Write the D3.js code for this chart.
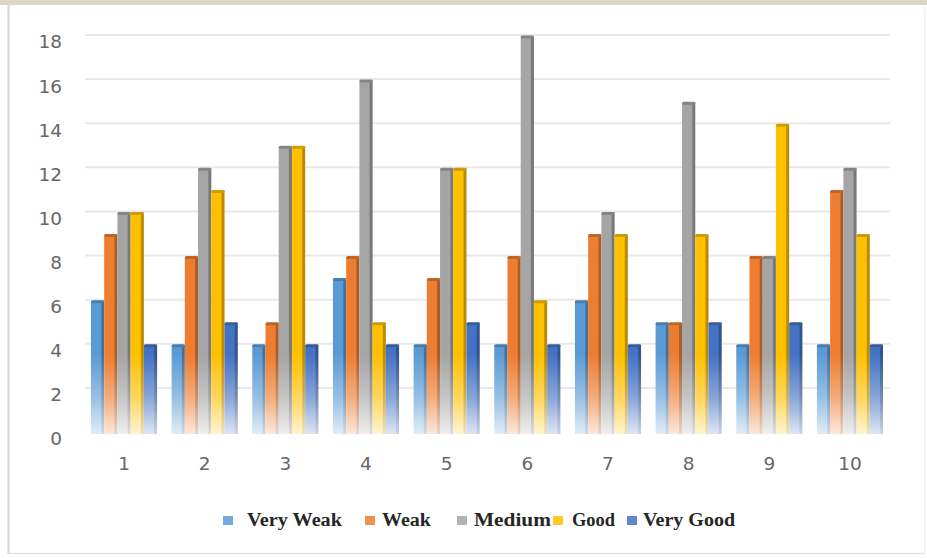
<!DOCTYPE html>
<html>
<head>
<meta charset="utf-8">
<script src="https://cdn.jsdelivr.net/npm/d3@7/dist/d3.min.js"></script>
<style>
  html, body { margin: 0; padding: 0; background: #ffffff; }
  svg { display: block; }
</style>
</head>
<body>
<svg id="chart" width="927" height="558"></svg>
<script>
// Groups along the x axis
const categories = ["1", "2", "3", "4", "5", "6", "7", "8", "9", "10"];

// Rating levels (one bar per level in each group)
const seriesNames = ["Very Weak", "Weak", "Medium", "Good", "Very Good"];
const seriesColors = ["#5b9bd5", "#ed7d31", "#a5a5a5", "#ffc000", "#4472c4"];

// Counts per group, one array per rating level
const veryWeak = [6, 4, 4, 7, 4, 4, 6, 5, 4, 4];
const weak     = [9, 8, 5, 8, 7, 8, 9, 5, 8, 11];
const medium   = [10, 12, 13, 16, 12, 18, 10, 15, 8, 12];
const good     = [10, 11, 13, 5, 12, 6, 9, 9, 14, 9];
const veryGood = [4, 5, 4, 4, 5, 4, 4, 5, 5, 4];

const yTicks = [0, 2, 4, 6, 8, 10, 12, 14, 16, 18];

const seriesValues = [veryWeak, weak, medium, good, veryGood];

const svg = d3.select("#chart");
const W = 927, H = 558;

// Page frame
svg.append("rect").attr("x", 0).attr("y", 0).attr("width", W).attr("height", 5).attr("fill", "#ddd6c6");
svg.append("line").attr("x1", 8.5).attr("x2", 8.5).attr("y1", 5).attr("y2", 554)
  .attr("stroke", "#d6d6d6").attr("stroke-width", 2);
svg.append("line").attr("x1", 8).attr("x2", 925).attr("y1", 553.5).attr("y2", 553.5)
  .attr("stroke", "#e2e2e2").attr("stroke-width", 1.5);
svg.append("line").attr("x1", 924.5).attr("x2", 924.5).attr("y1", 5).attr("y2", 554)
  .attr("stroke", "#efefef").attr("stroke-width", 1);

// Scales
const y = d3.scaleLinear().domain([0, 18]).range([434, 37]);
const x0 = d3.scaleBand().domain(categories).range([83.7, 890.3]).padding(0);
const x1 = d3.scaleBand().domain(seriesNames)
  .range([x0.bandwidth() * 0.09, x0.bandwidth() * 0.91]).padding(0);

// Gridlines (back wall, slightly above the front plane)
const grid = svg.append("g");
grid.selectAll("line").data(yTicks.filter(t => t > 0)).join("line")
  .attr("x1", 85).attr("x2", 890)
  .attr("y1", d => y(d) - 2).attr("y2", d => y(d) - 2)
  .attr("stroke", "#e8e8e8").attr("stroke-width", 2);

// Y axis labels
const yAxis = d3.axisLeft(y).tickValues(yTicks).tickSize(0).tickPadding(0);
const gy = svg.append("g").attr("transform", "translate(62,5)").call(yAxis);
gy.select(".domain").remove();
gy.selectAll("text")
  .attr("font-family", "'DejaVu Sans', sans-serif")
  .attr("font-size", 18.5).attr("fill", "#666666");

// X axis labels
const xAxis = d3.axisBottom(x0).tickSize(0).tickPadding(0);
const gx = svg.append("g").attr("transform", "translate(0,457)").call(xAxis);
gx.select(".domain").remove();
gx.selectAll("text")
  .attr("font-family", "'DejaVu Sans', sans-serif")
  .attr("font-size", 18.5).attr("fill", "#666666");

// Gradients: solid colour above, fading towards the floor
const defs = svg.append("defs");
function addGradient(id, color, fadeTo) {
  const g = defs.append("linearGradient").attr("id", id)
    .attr("gradientUnits", "userSpaceOnUse")
    .attr("x1", 0).attr("x2", 0).attr("y1", y(0)).attr("y2", y(3.6));
  g.append("stop").attr("offset", 0).attr("stop-color", d3.interpolateRgb(color, "#ffffff")(fadeTo));
  g.append("stop").attr("offset", 0.45).attr("stop-color", d3.interpolateRgb(color, "#ffffff")(fadeTo * 0.45));
  g.append("stop").attr("offset", 1).attr("stop-color", color);
}
seriesNames.forEach((s, i) => {
  const c = seriesColors[i];
  addGradient("front" + i, c, 0.82);
  addGradient("side" + i, d3.color(c).darker(0.9).formatHex(), 0.75);
});

// Bars
const sideW = 3;
const bars = svg.append("g");
categories.forEach((cat, ci) => {
  const gg = bars.append("g").attr("transform", `translate(${x0(cat)},0)`);
  seriesNames.forEach((s, si) => {
    const v = seriesValues[si][ci];
    const bx = x1(s);
    const bw = x1.bandwidth();
    const top = y(v);
    const c = seriesColors[si];
    // front face
    gg.append("rect").attr("x", bx).attr("y", top).attr("width", bw - sideW + 0.5)
      .attr("height", y(0) - top).attr("fill", `url(#front${si})`);
    // right side face
    gg.append("rect").attr("x", bx + bw - sideW).attr("y", top - 1)
      .attr("width", sideW).attr("height", y(0) - top + 1).attr("fill", `url(#side${si})`);
    // top cap
    gg.append("rect").attr("x", bx).attr("y", top - 1.5).attr("width", bw)
      .attr("height", 3).attr("rx", 1.5)
      .attr("fill", d3.color(c).darker(0.6).formatHex());
  });
});

// Legend
const legendItems = [
  { name: "Very Weak", mx: 223, tx: 247, tw: 95 },
  { name: "Weak",      mx: 365, tx: 382, tw: 49 },
  { name: "Medium",    mx: 457, tx: 474, tw: 77 },
  { name: "Good",      mx: 553, tx: 572, tw: 43 },
  { name: "Very Good", mx: 627, tx: 643, tw: 92 }
];
const legend = svg.append("g");
legendItems.forEach((d, i) => {
  legend.append("rect").attr("x", d.mx).attr("y", 516).attr("width", 10).attr("height", 9)
    .attr("fill", seriesColors[i]).attr("opacity", 0.85);
  legend.append("text").attr("x", d.tx).attr("y", 526)
    .attr("font-family", "'Liberation Serif', 'Times New Roman', serif")
    .attr("font-weight", "bold").attr("font-size", 18.5).attr("fill", "#262626")
    .attr("textLength", d.tw).attr("lengthAdjust", "spacingAndGlyphs")
    .text(d.name);
});
</script>
</body>
</html>
